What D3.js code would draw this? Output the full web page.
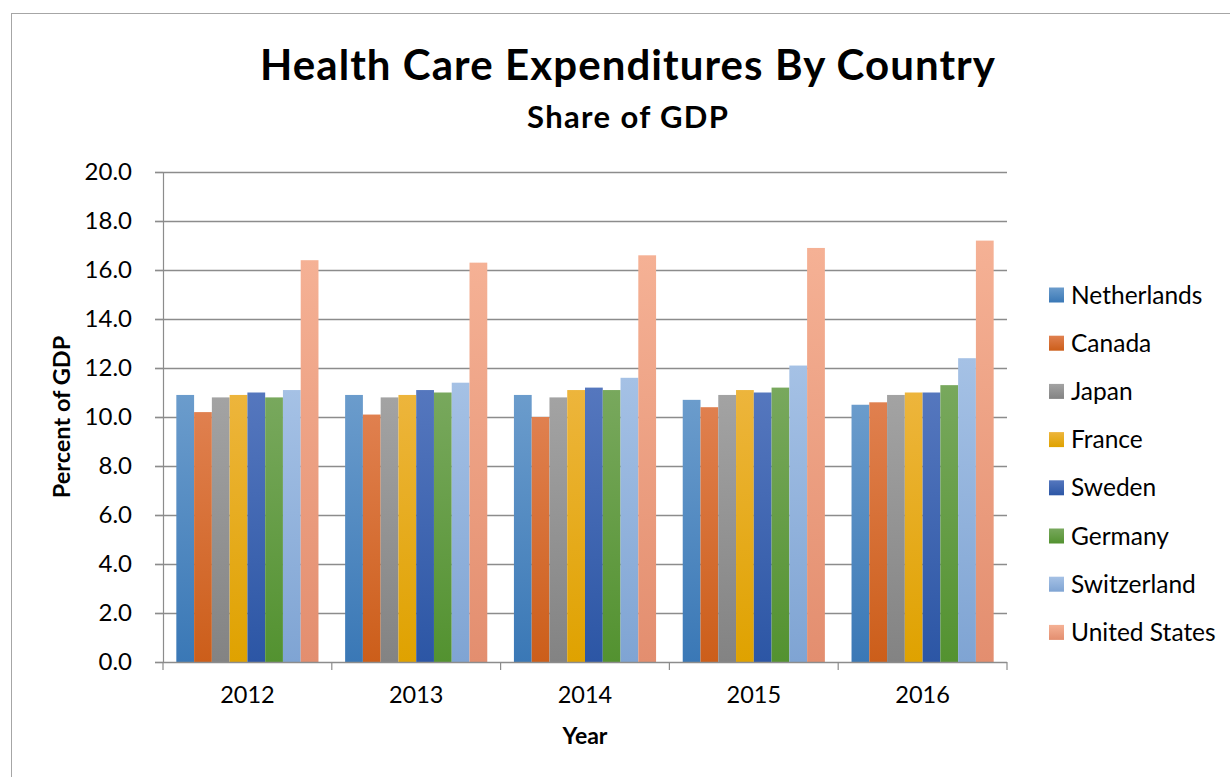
<!DOCTYPE html>
<html>
<head>
<meta charset="utf-8">
<script src="https://cdn.jsdelivr.net/npm/d3@7"></script>
<style>
html,body{margin:0;padding:0;background:#fff;}
svg{display:block;font-family:Lato,"Open Sans",sans-serif;}
</style>
</head>
<body>
<svg id="chart" width="1230" height="777"></svg>
<script>
const years = ["2012","2013","2014","2015","2016"];
const countries = ["Netherlands","Canada","Japan","France","Sweden","Germany","Switzerland","United States"];
const netherlands = [10.9,10.9,10.9,10.7,10.5];
const canada      = [10.2,10.1,10.0,10.4,10.6];
const japan       = [10.8,10.8,10.8,10.9,10.9];
const france      = [10.9,10.9,11.1,11.1,11.0];
const sweden      = [11.0,11.1,11.2,11.0,11.0];
const germany     = [10.8,11.0,11.1,11.2,11.3];
const switzerland = [11.1,11.4,11.6,12.1,12.4];
const unitedStates= [16.4,16.3,16.6,16.9,17.2];
const seriesValues = [netherlands,canada,japan,france,sweden,germany,switzerland,unitedStates];
const yTicks = [0,2,4,6,8,10,12,14,16,18,20];
const colorsTop = ["#6b9ccc","#e0804f","#a3a3a3","#edb53c","#5577be","#78a85d","#a5c1e5","#f5b195"];
const colorsBottom = ["#3a78b6","#cc5e1a","#838383","#dfa200","#2c56a5","#539230","#7fa4d3","#e38e6f"];

const svg = d3.select("#chart");
const defs = svg.append("defs");
countries.forEach((c,i)=>{
  const g = defs.append("linearGradient").attr("id","grad"+i)
    .attr("x1",0).attr("y1",0).attr("x2",0).attr("y2",1);
  g.append("stop").attr("offset","0%").attr("stop-color",colorsTop[i]);
  g.append("stop").attr("offset","100%").attr("stop-color",colorsBottom[i]);
});

// outer border
svg.append("rect").attr("x",11.5).attr("y",13.5).attr("width",1240).attr("height",800)
  .attr("fill","none").attr("stroke","#a6a6a6").attr("stroke-width",1);

const pLeft=163, pRight=1007, pTop=172, pBottom=662;
const y = d3.scaleLinear().domain([0,20]).range([pBottom,pTop]);
const x0 = d3.scaleBand().domain(years).range([pLeft,pRight]).paddingInner(0).paddingOuter(0);
const x1 = d3.scaleBand().domain(countries).range([0,x0.bandwidth()]).paddingInner(0).paddingOuter(0.75);

// gridlines
svg.append("g").selectAll("line").data(yTicks.filter(t=>t>0)).join("line")
  .attr("x1",pLeft-8).attr("x2",pRight).attr("y1",d=>Math.round(y(d))+0.5).attr("y2",d=>Math.round(y(d))+0.5)
  .attr("stroke","#8c8c8c").attr("stroke-width",1.6);

// y axis
const yAxis = svg.append("g").attr("transform",`translate(${pLeft},0)`)
  .call(d3.axisLeft(y).tickValues(yTicks).tickSize(8).tickPadding(23).tickFormat(d3.format(".1f")));
yAxis.select(".domain").attr("stroke","#8c8c8c").attr("stroke-width",1.2);
yAxis.selectAll(".tick line").attr("stroke","#8c8c8c").attr("stroke-width",1.2);
yAxis.selectAll(".tick text").attr("font-size",24).attr("fill","#000").attr("font-family","Lato");

// bars
const groups = svg.append("g").selectAll("g").data(years).join("g")
  .attr("transform",d=>`translate(${x0(d)},0)`);
groups.selectAll("rect").data((d,yi)=>countries.map((c,ci)=>({c,ci,v:seriesValues[ci][yi]}))).join("rect")
  .attr("x",d=>x1(d.c)).attr("width",x1.bandwidth())
  .attr("y",d=>y(d.v)).attr("height",d=>pBottom-y(d.v))
  .attr("fill",d=>`url(#grad${d.ci})`);

// x axis
const xAxis = svg.append("g").attr("transform",`translate(0,${pBottom})`)
  .call(d3.axisBottom(x0).tickSize(0).tickPadding(24));
xAxis.select(".domain").remove();
xAxis.selectAll(".tick text").attr("font-size",23.5).attr("fill","#000").attr("font-family","Lato");
svg.append("line").attr("x1",pLeft-8).attr("x2",pRight).attr("y1",pBottom+0.5).attr("y2",pBottom+0.5)
  .attr("stroke","#8c8c8c").attr("stroke-width",1.6);
const bounds = years.map(d=>x0(d)).concat([pRight]);
svg.append("g").selectAll("line").data(bounds).join("line")
  .attr("x1",d=>d).attr("x2",d=>d).attr("y1",pBottom).attr("y2",pBottom+8)
  .attr("stroke","#8c8c8c").attr("stroke-width",1.2);

// titles
svg.append("text").attr("x",627.5).attr("y",80).attr("text-anchor","middle")
  .attr("font-size",42).attr("font-weight","bold")
  .attr("textLength",735).attr("lengthAdjust","spacing")
  .text("Health Care Expenditures By Country");
svg.append("text").attr("x",627.5).attr("y",128).attr("text-anchor","middle")
  .attr("font-size",31).attr("font-weight","bold")
  .attr("textLength",201).attr("lengthAdjust","spacing")
  .text("Share of GDP");
svg.append("text").attr("x",585).attr("y",744).attr("text-anchor","middle")
  .attr("font-size",23).attr("font-weight","bold").text("Year");
svg.append("text").attr("transform","translate(70,417) rotate(-90)").attr("text-anchor","middle")
  .attr("font-size",23.5).attr("font-weight","bold").text("Percent of GDP");

// legend
const legend = svg.append("g").selectAll("g").data(countries).join("g")
  .attr("transform",(d,i)=>`translate(1049,${295+i*48.2})`);
legend.append("rect").attr("x",0).attr("y",-7.5).attr("width",15).attr("height",15)
  .attr("fill",(d,i)=>`url(#grad${i})`);
legend.append("text").attr("x",22).attr("y",8.5).attr("font-size",24.5).attr("fill","#000").text(d=>d);
</script>
</body>
</html>
